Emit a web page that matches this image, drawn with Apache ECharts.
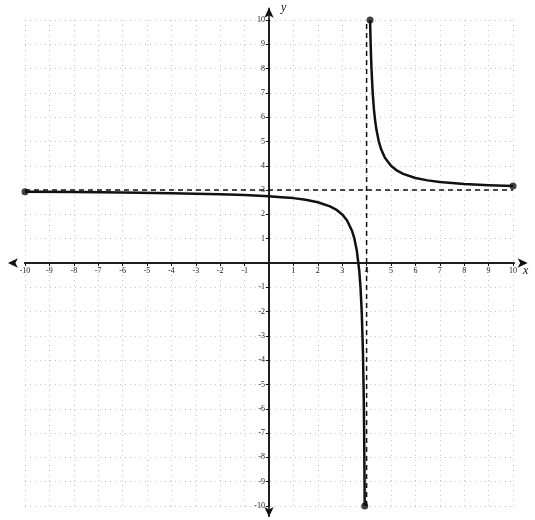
<!DOCTYPE html>
<html>
<head>
<meta charset="utf-8">
<script src="https://cdn.jsdelivr.net/npm/echarts@6/dist/echarts.min.js"></script>
<style>
  html, body { margin: 0; padding: 0; background: #fff; }
  #chart { width: 535px; height: 520px; }
</style>
</head>
<body>
<div id="chart"></div>
<script>
// Left branch of the curve (x < 4)
const leftX = [-10, -8, -6, -4, -2, -1, 0, 0.5, 1, 1.5, 2, 2.5, 2.75, 3, 3.2, 3.4, 3.5, 3.6, 3.7, 3.75, 3.8, 3.85, 3.88, 3.9, 3.923];
const leftY = [2.93, 2.92, 2.9, 2.875, 2.83, 2.8, 2.75, 2.71, 2.67, 2.6, 2.5, 2.33, 2.2, 2.0, 1.75, 1.33, 1.0, 0.5, -0.33, -1.0, -2.0, -3.67, -5.33, -7.0, -10];

// Right branch of the curve (x > 4)
const rightX = [4.143, 4.16, 4.18, 4.2, 4.25, 4.3, 4.35, 4.4, 4.5, 4.6, 4.75, 5, 5.25, 5.5, 6, 6.5, 7, 8, 9, 10];
const rightY = [10, 9.25, 8.56, 8.0, 7.0, 6.33, 5.86, 5.5, 5.0, 4.67, 4.33, 4.0, 3.8, 3.67, 3.5, 3.4, 3.33, 3.25, 3.2, 3.17];

// Asymptotes
const horizAsymX = [-10, 10];
const horizAsymY = [3, 3];
const vertAsymX = [4, 4];
const vertAsymY = [-10, 10];

// Axis range and tick step
const axisMin = -10;
const axisMax = 10;
const tickStep = 1;

const zip = (xs, ys) => xs.map((x, i) => [x, ys[i]]);
const leftPts = zip(leftX, leftY);
const rightPts = zip(rightX, rightY);
const endPts = [leftPts[0], leftPts[leftPts.length - 1], rightPts[0], rightPts[rightPts.length - 1]];

const labelFont = { fontFamily: 'Liberation Serif', fontSize: 8, color: '#222' };

const gridBox = { left: 25, right: 22, top: 20, bottom: 14 };
const W = 535, H = 520;
const plotW = W - gridBox.left - gridBox.right;
const plotH = H - gridBox.top - gridBox.bottom;

const chart = echarts.init(document.getElementById('chart'), null, { renderer: 'canvas' });

const axisCommon = {
  type: 'value',
  min: axisMin,
  max: axisMax,
  interval: tickStep,
  axisLine: { show: true, onZero: false, lineStyle: { color: '#111', width: 1.5 } },
  axisTick: { show: true, length: 3, inside: false, lineStyle: { color: '#111' } },
  splitLine: { show: true, lineStyle: { color: '#c4c4c4', type: [1, 4], width: 1 } },
  axisLabel: Object.assign({ margin: 4, formatter: v => (v === 0 ? '' : String(v)) }, labelFont)
};

// Arrowhead line through the origin, extending a little past the grid
function axisArrow(pts, rotations) {
  return {
    type: 'line',
    data: pts.map((p, i) => ({ value: p, symbolRotate: rotations[i] })),
    clip: false,
    silent: true,
    symbol: 'arrow',
    symbolSize: [7, 10],
    showSymbol: true,
    itemStyle: { color: '#111' },
    lineStyle: { color: '#111', width: 1.5 },
    z: 3
  };
}

chart.setOption({
  animation: false,
  backgroundColor: '#fff',
  grid: Object.assign({ containLabel: false }, gridBox),
  xAxis: Object.assign({}, axisCommon, {
    position: 'bottom',
    offset: -plotH / 2,
    name: 'x',
    nameLocation: 'end',
    nameGap: 8,
    nameTextStyle: { fontFamily: 'Liberation Serif', fontStyle: 'italic', fontSize: 12, color: '#111', verticalAlign: 'top', padding: [2, 0, 0, 0] }
  }),
  yAxis: Object.assign({}, axisCommon, {
    position: 'left',
    offset: -plotW / 2,
    name: 'y',
    nameLocation: 'end',
    nameGap: 6,
    nameTextStyle: { fontFamily: 'Liberation Serif', fontStyle: 'italic', fontSize: 12, color: '#111', align: 'left', padding: [0, 0, 0, 12] }
  }),
  series: [
    axisArrow([[-10.7, 0], [10.6, 0]], [90, -90]),
    axisArrow([[0, -10.45], [0, 10.5]], [180, 0]),
    {
      type: 'line',
      data: zip(horizAsymX, horizAsymY),
      showSymbol: false,
      lineStyle: { color: '#111', width: 1.5, type: [5, 4] },
      silent: true
    },
    {
      type: 'line',
      data: zip(vertAsymX, vertAsymY),
      showSymbol: false,
      lineStyle: { color: '#111', width: 1.5, type: [5, 4] },
      silent: true
    },
    {
      type: 'line',
      data: leftPts,
      smooth: false,
      showSymbol: false,
      clip: false,
      lineStyle: { color: '#111', width: 2.5, join: 'round' },
      silent: true
    },
    {
      type: 'line',
      data: rightPts,
      smooth: false,
      showSymbol: false,
      clip: false,
      lineStyle: { color: '#111', width: 2.5, join: 'round' },
      silent: true
    },
    {
      type: 'scatter',
      data: endPts,
      symbolSize: 7,
      itemStyle: { color: '#111' },
      clip: false,
      silent: true
    }
  ]
});
</script>
</body>
</html>
